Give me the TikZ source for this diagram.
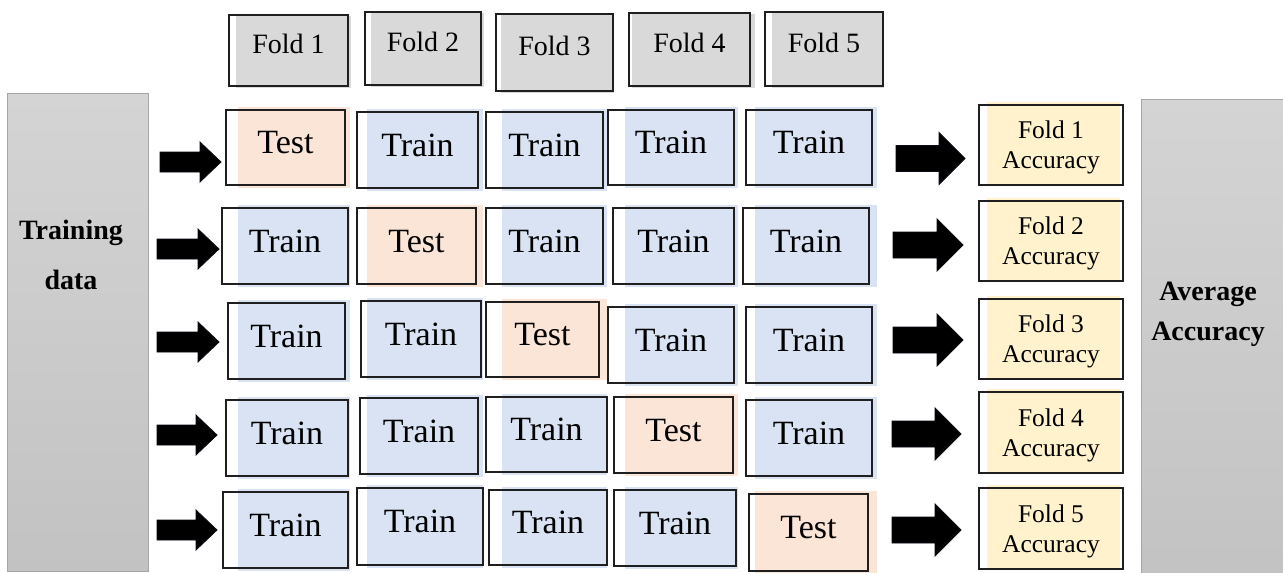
\documentclass[tikz,border=0pt]{standalone}
\usepackage{fontspec}
\setmainfont{Liberation Serif}
\usetikzlibrary{calc}

\definecolor{testfill}{HTML}{FBE5D6}
\definecolor{trainfill}{HTML}{DAE3F3}
\definecolor{accfill}{HTML}{FFF2CC}
\definecolor{headfill}{HTML}{D9D9D9}
\definecolor{paneltop}{HTML}{D4D4D4}
\definecolor{panelbot}{HTML}{C2C2C2}
\definecolor{paneledge}{HTML}{A6A6A6}
\definecolor{arrowink}{HTML}{0B0B16}

\tikzset{
  x=1pt, y=-1pt,
  cellframe/.style={draw=black!88, line width=1.2pt, inner sep=0pt,
    font=\fontsize{34}{40}\selectfont, text height=24pt, text depth=11.4pt},
  headframe/.style={draw=black!88, line width=1.2pt, inner sep=0pt,
    font=\fontsize{28}{34}\selectfont, text height=19pt, text depth=12.4pt},
  accframe/.style={draw=black!88, line width=1.2pt, inner sep=0pt, align=center,
    font=\fontsize{25.5}{30}\selectfont, text depth=-6pt},
  panel/.style={draw=paneledge, line width=1pt, top color=paneltop,
    bottom color=panelbot, inner sep=0pt},
  paneltext/.style={align=center, font=\bfseries\fontsize{28}{#1}\selectfont},
  blockink/.style={fill=black, draw=arrowink, line width=0.8pt, line join=miter},
}

% cell: name, x1, y1, x2, y2, fill x1, fill x2, colour, label
\newcommand\cell[9]{%
  \fill[#8] (#6,{#3-3}) rectangle (#7,{#5+3});
  \node[cellframe, minimum width={(#4-#2)*1pt}, minimum height={(#5-#3)*1pt}]
    (#1) at ({(#2+#4)/2},{(#3+#5)/2}) {#9};
}
% fold header: name, x1, y1, x2, y2, fill x1, fill x2, label
\newcommand\header[8]{%
  \fill[headfill] (#6,{#3+1}) rectangle (#7,{#5+2});
  \node[headframe, minimum width={(#4-#2)*1pt}, minimum height={(#5-#3)*1pt}]
    (#1) at ({(#2+#4)/2},{(#3+#5)/2}) {#8};
}
% accuracy box: name, y1, y2, fold number
\newcommand\acc[4]{%
  \fill[accfill] (987,{#2-3}) rectangle (1120,{#3-1});
  \node[accframe, minimum width=144pt, minimum height={(#3-#2)*1pt}]
    (#1) at (1051,{(#2+#3)/2}) {Fold #4\\Accuracy};
}
% block arrow: x start, x tip, y centre, shaft half width, head half width, head length
\newcommand\blockarrow[6]{%
  \filldraw[blockink] (#1,{#3-#4}) -- ({#2-#6},{#3-#4}) -- ({#2-#6},{#3-#5})
    -- (#2,#3) -- ({#2-#6},{#3+#5}) -- ({#2-#6},{#3+#4}) -- (#1,{#3+#4}) -- cycle;
}

\begin{document}
\begin{tikzpicture}
  \clip (0,0) rectangle (1283,573);
  \fill[white] (0,0) rectangle (1283,573);

  % side panels
  \node[panel, minimum width=141pt, minimum height=478pt] (data) at (77.5,332) {};
  \node[paneltext=50pt] (datalbl) at (71,255) {Training\\data};
  \node[panel, minimum width=160pt, minimum height=490pt] (avg) at (1221,344) {};
  \node[paneltext=40pt] (avglbl) at (1208,314) {Average\\Accuracy};

  % fold headers
  \header{f1}{229}{15}{348}{86}{236}{351}{Fold 1}
  \header{f2}{365}{12}{481}{85}{371}{484}{Fold 2}
  \header{f3}{496}{14}{613}{91}{501}{614}{Fold 3}
  \header{f4}{629}{13}{750}{86}{632}{755}{Fold 4}
  \header{f5}{765}{12}{883}{86}{772}{884}{Fold 5}

  % row 1
  \cell{r1c1}{226}{110}{345}{185}{238}{350}{testfill}{Test}
  \cell{r1c2}{357}{112}{478}{188}{367}{483}{trainfill}{Train}
  \cell{r1c3}{486}{112}{603}{188}{502}{607}{trainfill}{Train}
  \cell{r1c4}{608}{110}{734}{185}{625}{738}{trainfill}{Train}
  \cell{r1c5}{746}{110}{872}{185}{755}{877}{trainfill}{Train}
  % row 2
  \cell{r2c1}{222}{208}{348}{284}{238}{350}{trainfill}{Train}
  \cell{r2c2}{357}{208}{476}{284}{367}{483}{testfill}{Test}
  \cell{r2c3}{486}{208}{603}{284}{502}{607}{trainfill}{Train}
  \cell{r2c4}{613}{208}{734}{284}{625}{738}{trainfill}{Train}
  \cell{r2c5}{743}{208}{869}{284}{755}{877}{trainfill}{Train}
  % row 3
  \cell{r3c1}{228}{303}{345}{379}{238}{350}{trainfill}{Train}
  \cell{r3c2}{361}{301}{481}{377}{367}{483}{trainfill}{Train}
  \cell{r3c3}{486}{302}{599}{377}{502}{607}{testfill}{Test}
  \cell{r3c4}{608}{307}{734}{383}{625}{738}{trainfill}{Train}
  \cell{r3c5}{746}{307}{872}{383}{755}{877}{trainfill}{Train}
  % row 4
  \cell{r4c1}{226}{400}{348}{476}{238}{350}{trainfill}{Train}
  \cell{r4c2}{360}{398}{478}{474}{367}{483}{trainfill}{Train}
  \cell{r4c3}{486}{397}{607}{472}{502}{607}{trainfill}{Train}
  \cell{r4c4}{614}{397}{733}{473}{625}{738}{testfill}{Test}
  \cell{r4c5}{746}{400}{872}{476}{755}{877}{trainfill}{Train}
  % row 5
  \cell{r5c1}{223}{492}{348}{568}{238}{350}{trainfill}{Train}
  \cell{r5c2}{357}{488}{483}{565}{367}{483}{trainfill}{Train}
  \cell{r5c3}{489}{490}{607}{565}{502}{607}{trainfill}{Train}
  \cell{r5c4}{614}{490}{736}{566}{625}{738}{trainfill}{Train}
  \cell{r5c5}{749}{494}{868}{571}{755}{877}{testfill}{Test}

  % per-fold accuracy
  \acc{a1}{105}{185}{1}
  \acc{a2}{201}{281}{2}
  \acc{a3}{299}{379}{3}
  \acc{a4}{392}{473}{4}
  \acc{a5}{488}{569}{5}

  % arrows into the rows
  \blockarrow{160}{221}{162}{10}{20}{21}
  \blockarrow{157}{219}{249}{10}{20}{21}
  \blockarrow{157}{219}{342}{10}{20}{21}
  \blockarrow{157}{217}{435}{10}{20}{21}
  \blockarrow{157}{217}{530}{10}{20}{21}
  % arrows out to the accuracies
  \blockarrow{896}{965}{158.5}{13}{26}{26}
  \blockarrow{893}{963}{245}{13}{26}{26}
  \blockarrow{893}{963}{340}{13}{26}{26}
  \blockarrow{892}{961}{434}{13}{26}{26}
  \blockarrow{892}{961}{530}{13}{26}{26}
\end{tikzpicture}
\end{document}
